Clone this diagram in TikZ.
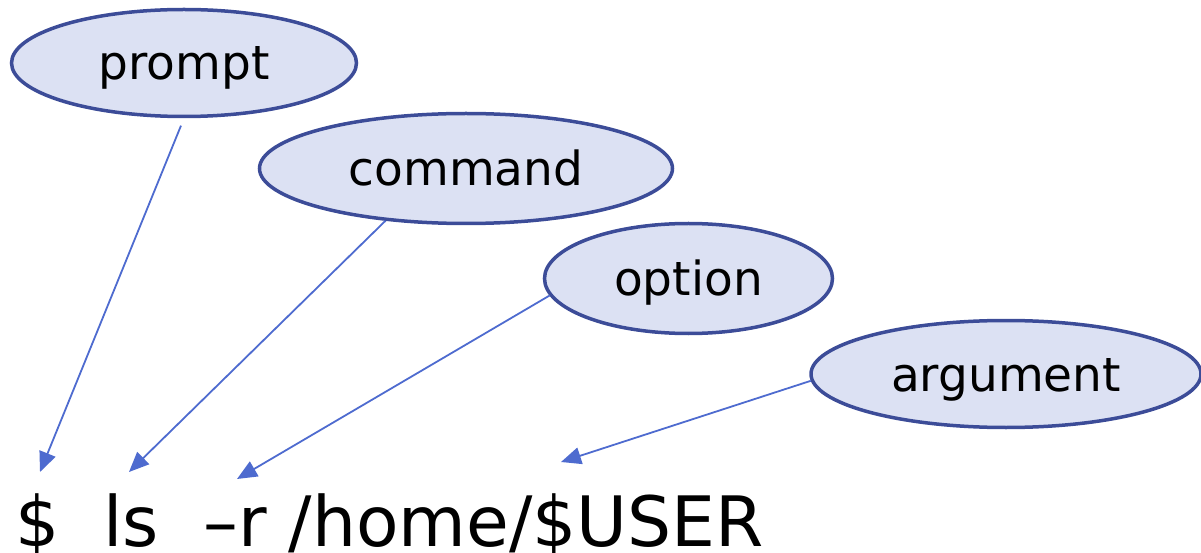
\documentclass[tikz,border=0pt]{standalone}
\usepackage{fontspec}
\setmainfont{DejaVu Sans}
\usetikzlibrary{shapes.geometric,arrows.meta}
\definecolor{bubblefill}{HTML}{DCE1F3}
\definecolor{bubbleline}{HTML}{3C4C98}
\definecolor{pointer}{HTML}{4E6BCF}
\begin{document}
\begin{tikzpicture}[x=1pt,y=1pt,
  bubble/.style={ellipse,draw=bubbleline,fill=bubblefill,line width=3.5pt,inner sep=0pt,
    font=\fontsize{47}{56}\selectfont,text height=34pt,text depth=0pt},
  pointto/.style={-{Triangle[length=20pt,width=17pt]},draw=pointer,fill=pointer,line width=1.8pt}]
\useasboundingbox (0,0) rectangle (1201,552);
\node[bubble,minimum width=345pt,minimum height=107pt](prompt) at (184,489){prompt};
\node[bubble,minimum width=413pt,minimum height=110pt](command) at (466,383.5){command};
\node[bubble,minimum width=288pt,minimum height=110pt](option) at (688.5,273.5){option};
\node[bubble,minimum width=390pt,minimum height=107pt](argument) at (1006,178){argument};
\node[anchor=base west,inner sep=0pt,font=\fontsize{69.5}{80}\selectfont](cmdline) at (15,6)
  {\$\ \ ls\ \ –r /home/\$USER};
\coordinate (tipprompt) at (40,80);
\coordinate (tipcommand) at (129,80);
\coordinate (tipoption) at (237,73);
\coordinate (tipargument) at (561,90);
\draw[pointto,shorten <=8pt](prompt.south)--(tipprompt);
\draw[pointto](command.213)--(tipcommand);
\draw[pointto](option.187)--(tipoption);
\draw[pointto](argument.182)--(tipargument);
\end{tikzpicture}
\end{document}
